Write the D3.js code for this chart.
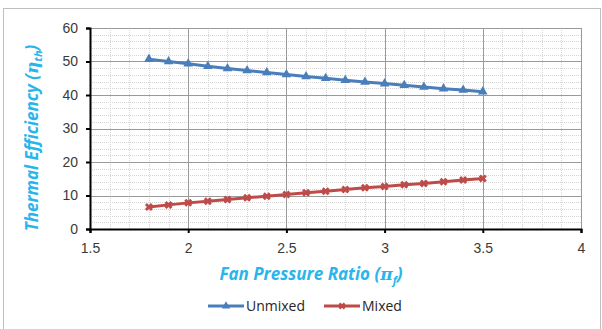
<!DOCTYPE html>
<html>
<head>
<meta charset="utf-8">
<script src="https://cdn.jsdelivr.net/npm/d3@7"></script>
<style>
  body { margin: 0; background: #fff; }
  svg { display: block; font-family: "Open Sans", "Liberation Sans", sans-serif; }
</style>
</head>
<body>
<div id="chart"></div>
<script>
// data
const fanPressure = [1.8, 1.9, 2.0, 2.1, 2.2, 2.3, 2.4, 2.5, 2.6, 2.7, 2.8, 2.9, 3.0, 3.1, 3.2, 3.3, 3.4, 3.5];
const unmixed = [50.7, 50.0, 49.3, 48.6, 47.9, 47.3, 46.7, 46.1, 45.5, 45.0, 44.4, 43.9, 43.4, 42.9, 42.4, 41.9, 41.5, 41.0];
const mixed = [6.6, 7.2, 7.8, 8.3, 8.8, 9.3, 9.8, 10.3, 10.8, 11.3, 11.8, 12.3, 12.7, 13.2, 13.6, 14.1, 14.6, 15.1];
const xTicks = [1.5, 2, 2.5, 3, 3.5, 4];
const yTicks = [0, 10, 20, 30, 40, 50, 60];

const W = 602, H = 329;
const margin = { left: 90, right: 21, top: 28, bottom: 100 };
const width = W - margin.left - margin.right;
const height = H - margin.top - margin.bottom;

const svg = d3.select("#chart").append("svg")
  .attr("width", W).attr("height", H);

// outer chart frame
svg.append("rect")
  .attr("x", 3.5).attr("y", 8.5)
  .attr("width", W - 5).attr("height", H)
  .attr("fill", "none").attr("stroke", "#bfbfbf").attr("stroke-width", 1);

const g = svg.append("g").attr("transform", `translate(${margin.left},${margin.top})`);

const x = d3.scaleLinear().domain([1.5, 4]).range([0, width]);
const y = d3.scaleLinear().domain([0, 60]).range([height, 0]);

// minor grid (dotted)
const xMinor = d3.range(15, 41).map(v => v / 10).filter(v => !xTicks.includes(v));
const yMinor = d3.range(0, 61, 2).filter(v => v % 10 !== 0);

g.append("g").selectAll("line").data(xMinor).join("line")
  .attr("x1", d => Math.round(x(d)) + 0.5).attr("x2", d => Math.round(x(d)) + 0.5)
  .attr("y1", 0).attr("y2", height)
  .attr("stroke", "#d4d4d4").attr("stroke-dasharray", "1,1");
g.append("g").selectAll("line").data(yMinor).join("line")
  .attr("y1", d => Math.round(y(d)) + 0.5).attr("y2", d => Math.round(y(d)) + 0.5)
  .attr("x1", 0).attr("x2", width)
  .attr("stroke", "#d4d4d4").attr("stroke-dasharray", "1,1");

// major grid
g.append("g").selectAll("line").data(xTicks).join("line")
  .attr("x1", d => Math.round(x(d)) + 0.5).attr("x2", d => Math.round(x(d)) + 0.5)
  .attr("y1", 0).attr("y2", height)
  .attr("stroke", "#9a9a9a");
g.append("g").selectAll("line").data(yTicks).join("line")
  .attr("y1", d => Math.round(y(d)) + 0.5).attr("y2", d => Math.round(y(d)) + 0.5)
  .attr("x1", 0).attr("x2", width)
  .attr("stroke", "#9a9a9a");

// axes
const xAxis = g.append("g")
  .attr("transform", `translate(0,${height})`)
  .call(d3.axisBottom(x).tickValues(xTicks).tickSize(4).tickPadding(10).tickFormat(d3.format("")));
const yAxis = g.append("g")
  .call(d3.axisLeft(y).tickValues(yTicks).tickSize(4).tickPadding(8));

[xAxis, yAxis].forEach(a => {
  a.select(".domain").attr("stroke", "#000").attr("stroke-width", 2);
  a.selectAll(".tick line").attr("stroke", "#000").attr("stroke-width", 2);
  a.selectAll("text").attr("fill", "#3a3a3a").style("font-size", "14px");
});

const line = d3.line().x(d => x(d[0])).y(d => y(d[1]));
const blue = "#4a7ebb", red = "#be4b48";

const unmixedPts = fanPressure.map((v, i) => [v, unmixed[i]]);
const mixedPts = fanPressure.map((v, i) => [v, mixed[i]]);

g.append("path").datum(unmixedPts).attr("d", line)
  .attr("fill", "none").attr("stroke", blue).attr("stroke-width", 3);
g.append("g").selectAll("path").data(unmixedPts).join("path")
  .attr("transform", d => `translate(${x(d[0])},${y(d[1])})`)
  .attr("d", d3.symbol(d3.symbolTriangle, 40))
  .attr("fill", blue);

g.append("path").datum(mixedPts).attr("d", line)
  .attr("fill", "none").attr("stroke", red).attr("stroke-width", 3);
g.append("g").selectAll("path").data(mixedPts).join("path")
  .attr("transform", d => `translate(${x(d[0])},${y(d[1])}) rotate(45)`)
  .attr("d", d3.symbol(d3.symbolCross, 40))
  .attr("fill", red);

// axis titles
const titleColor = "#29b5ec";
svg.append("text")
  .attr("transform", "translate(38,138) rotate(-90)")
  .attr("text-anchor", "middle")
  .attr("fill", titleColor)
  .style("font-size", "17px").style("font-weight", "bold").style("font-style", "italic")
  .html('Thermal Efficiency (<tspan font-family="DejaVu Serif">η</tspan><tspan dy="4" font-size="11">th</tspan><tspan dy="-4">)</tspan>');

svg.append("text")
  .attr("x", 311).attr("y", 280)
  .attr("text-anchor", "middle")
  .attr("fill", titleColor)
  .style("font-size", "17px").style("font-weight", "bold").style("font-style", "italic")
  .html('Fan Pressure Ratio (<tspan font-family="DejaVu Serif">π</tspan><tspan dy="4" font-size="11">f</tspan><tspan dy="-4">)</tspan>');

// legend
const legend = [
  { name: "Unmixed", color: blue, sym: d3.symbolTriangle, rot: 0, x: 208 },
  { name: "Mixed", color: red, sym: d3.symbolCross, rot: 45, x: 324 }
];
const lg = svg.append("g").selectAll("g").data(legend).join("g")
  .attr("transform", d => `translate(${d.x},306)`);
lg.append("line").attr("x1", 0).attr("x2", 36)
  .attr("stroke", d => d.color).attr("stroke-width", 3);
lg.append("path")
  .attr("transform", d => `translate(18,0) rotate(${d.rot})`)
  .attr("d", d => d3.symbol(d.sym, 30)())
  .attr("fill", d => d.color);
lg.append("text").attr("x", 38).attr("y", 5)
  .attr("fill", "#262626").style("font-size", "14px")
  .text(d => d.name);
</script>
</body>
</html>
